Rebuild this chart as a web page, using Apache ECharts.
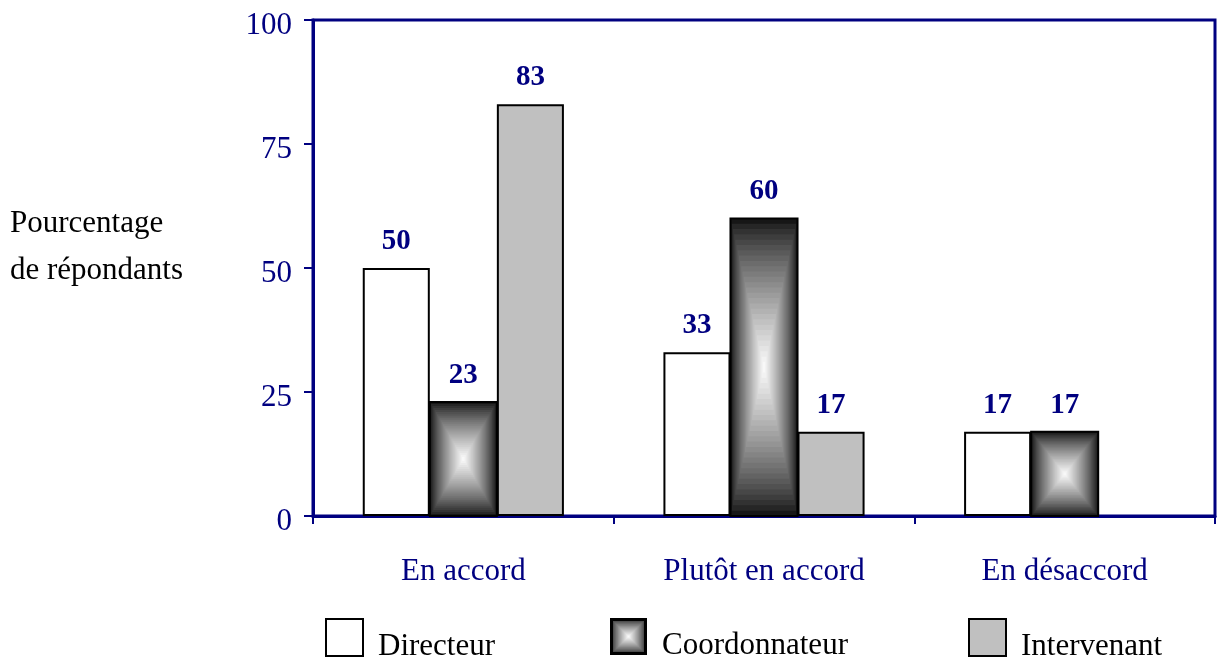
<!DOCTYPE html>
<html>
<head>
<meta charset="utf-8">
<script src="https://cdn.jsdelivr.net/npm/echarts@6/dist/echarts.min.js"></script>
<style>
  html, body { margin: 0; padding: 0; background: #fff; }
  #chart { width: 1217px; height: 660px; }
</style>
</head>
<body>
<div id="chart"></div>
<script>
const categories = ['En accord', 'Plutôt en accord', 'En désaccord'];
const seriesNames = ['Directeur', 'Coordonnateur', 'Intervenant'];
const directeur = [50, 33, 17];
const coordonnateur = [23, 60, 17];
const intervenant = [83, 17, null];
const yTicks = [0, 25, 50, 75, 100];

const navy = '#000080';
const serif = '"Liberation Serif", "Times New Roman", serif';
const barRatio = 0.223;
const steps = 28;

// gris du dégradé "rectangle" : sombre au bord, blanc au centre
function shade(t) {
  const g = Math.round(22 + (255 - 22) * Math.pow(t, 0.8));
  return 'rgb(' + g + ',' + g + ',' + g + ')';
}

function boxGradientIcon(size) {
  const c = document.createElement('canvas');
  c.width = size; c.height = size;
  const ctx = c.getContext('2d');
  for (let i = 0; i < steps; i++) {
    const t = i / steps;
    const inset = t * size / 2;
    ctx.fillStyle = shade(t);
    ctx.fillRect(inset, inset, size - 2 * inset, size - 2 * inset);
  }
  ctx.strokeStyle = '#000';
  ctx.lineWidth = 3;
  ctx.strokeRect(1.5, 1.5, size - 3, size - 3);
  return 'image://' + c.toDataURL();
}

const labelStyle = {
  show: true,
  position: 'top',
  distance: 12,
  color: navy,
  fontFamily: serif,
  fontWeight: 'bold',
  fontSize: 29
};

const chart = echarts.init(document.getElementById('chart'));

const option = {
  backgroundColor: '#fff',
  animation: false,
  title: {
    text: 'Pourcentage\nde répondants',
    left: 10,
    top: 200,
    padding: 0,
    textStyle: {
      fontFamily: serif,
      fontWeight: 'normal',
      fontSize: 31,
      lineHeight: 47,
      color: '#000'
    }
  },
  grid: {
    left: 313,
    right: 2,
    top: 20,
    bottom: 144,
    show: true,
    borderColor: navy,
    borderWidth: 3,
    backgroundColor: 'transparent'
  },
  legend: [
    { name: 'Directeur', left: 325 },
    { name: 'Coordonnateur', left: 610, icon: boxGradientIcon(37) },
    { name: 'Intervenant', left: 968 }
  ].map(function (l) {
    return {
      data: [l.icon ? { name: l.name, icon: l.icon } : { name: l.name, icon: 'rect' }],
      left: l.left,
      top: 618,
      itemWidth: 37,
      itemHeight: 37,
      padding: 0,
      selectedMode: false,
      itemStyle: { borderColor: '#000', borderWidth: 2 },
      formatter: function (name) { return '{t|' + name + '}'; },
      textStyle: {
        fontFamily: serif,
        fontSize: 31,
        color: '#000',
        rich: {
          t: {
            fontFamily: serif,
            fontSize: 31,
            color: '#000',
            padding: [18, 0, 0, 10]
          }
        }
      }
    };
  }),
  xAxis: {
    type: 'category',
    data: categories,
    axisLine: { lineStyle: { color: navy, width: 3 } },
    axisTick: { show: true, length: 8, lineStyle: { color: navy, width: 2 } },
    axisLabel: {
      margin: 40,
      color: navy,
      fontFamily: serif,
      fontSize: 31
    },
    splitLine: { show: false }
  },
  yAxis: {
    type: 'value',
    min: yTicks[0],
    max: yTicks[yTicks.length - 1],
    interval: 25,
    axisLine: { show: true, lineStyle: { color: navy, width: 3 } },
    axisTick: { show: true, length: 9, lineStyle: { color: navy, width: 2 } },
    axisLabel: {
      margin: 21,
      formatter: function (v) { return '{n|' + v + '}'; },
      rich: {
        n: {
          color: navy,
          fontFamily: serif,
          fontSize: 31,
          padding: [12, 0, 0, 0]
        }
      }
    },
    splitLine: { show: false }
  },
  series: [
    {
      name: seriesNames[0],
      type: 'bar',
      data: directeur,
      barWidth: (barRatio * 100) + '%',
      barGap: '0%',
      itemStyle: { color: '#fff', borderColor: '#000', borderWidth: 2 },
      label: labelStyle
    },
    {
      name: seriesNames[1],
      type: 'bar',
      data: coordonnateur,
      barWidth: (barRatio * 100) + '%',
      barGap: '0%',
      itemStyle: { color: 'transparent', borderWidth: 0 },
      label: labelStyle
    },
    {
      name: seriesNames[2],
      type: 'bar',
      data: intervenant,
      barWidth: (barRatio * 100) + '%',
      barGap: '0%',
      itemStyle: { color: '#c0c0c0', borderColor: '#000', borderWidth: 2 },
      label: labelStyle
    },
    {
      // remplissage en dégradé rectangulaire du coordonnateur
      name: seriesNames[1],
      type: 'custom',
      z: 3,
      data: coordonnateur.map(function (v, i) { return [i, v]; }),
      encode: { x: 0, y: 1 },
      renderItem: function (params, api) {
        const v = api.value(1);
        if (v == null) return;
        const top = api.coord([api.value(0), v]);
        const base = api.coord([api.value(0), 0]);
        const w = api.size([1, 0])[0] * barRatio;
        const x0 = top[0] - w / 2;
        const y0 = top[1];
        const h = base[1] - top[1];
        const children = [];
        for (let i = 0; i < steps; i++) {
          const t = i / steps;
          children.push({
            type: 'rect',
            shape: { x: x0 + t * w / 2, y: y0 + t * h / 2, width: w * (1 - t), height: h * (1 - t) },
            style: { fill: shade(t) }
          });
        }
        children.push({
          type: 'rect',
          shape: { x: x0, y: y0, width: w, height: h },
          style: { fill: null, stroke: '#000', lineWidth: 2 }
        });
        return { type: 'group', children: children };
      }
    }
  ]
};

chart.setOption(option);
</script>
</body>
</html>
